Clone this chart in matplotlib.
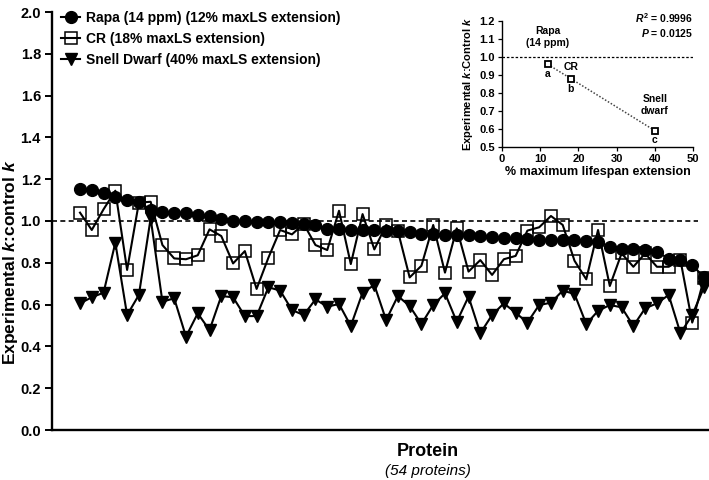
import numpy as np
import matplotlib
matplotlib.use("Agg")
import matplotlib.pyplot as plt

plt.rcParams['font.family'] = ['Liberation Sans', 'DejaVu Sans']
plt.rcParams['font.weight'] = 'bold'
plt.rcParams['mathtext.fontset'] = 'custom'
plt.rcParams['mathtext.rm'] = 'Liberation Sans:bold'
plt.rcParams['mathtext.bf'] = 'Liberation Sans:bold'
plt.rcParams['mathtext.it'] = 'Liberation Sans:italic:bold'

# ---------------- data ----------------
rapa = [1.155, 1.15, 1.135, 1.115, 1.10, 1.09, 1.055, 1.045, 1.04, 1.04,
        1.03, 1.025, 1.01, 1.00, 1.00, 0.995, 0.995, 0.995, 0.99, 0.985,
        0.98, 0.96, 0.96, 0.955, 0.955, 0.955, 0.952, 0.95, 0.945, 0.94,
        0.94, 0.935, 0.935, 0.933, 0.93, 0.925, 0.92, 0.917, 0.914, 0.91,
        0.909, 0.908, 0.907, 0.905, 0.90, 0.877, 0.865, 0.864, 0.86, 0.853,
        0.82, 0.813, 0.79, 0.73]
cr = [1.04, 0.957, 1.056, 1.145, 0.766, 1.088, 1.092, 0.885, 0.821, 0.817,
      0.836, 0.96, 0.928, 0.797, 0.856, 0.675, 0.824, 0.957, 0.936, 0.986,
      0.885, 0.861, 1.049, 0.794, 1.033, 0.864, 0.981, 0.952, 0.73, 0.786,
      0.981, 0.753, 0.965, 0.758, 0.813, 0.742, 0.817, 0.833, 0.954, 0.97,
      1.024, 0.981, 0.81, 0.721, 0.957, 0.689, 0.845, 0.781, 0.845, 0.781,
      0.781, 0.813, 0.514, 0.725]
snell = [0.606, 0.635, 0.657, 0.896, 0.55, 0.646, 1.013, 0.614, 0.63, 0.447,
         0.558, 0.478, 0.641, 0.635, 0.545, 0.545, 0.683, 0.667, 0.574, 0.55,
         0.625, 0.59, 0.603, 0.498, 0.657, 0.694, 0.526, 0.641, 0.593, 0.507,
         0.598, 0.654, 0.518, 0.638, 0.463, 0.55, 0.606, 0.561, 0.514, 0.598,
         0.609, 0.667, 0.651, 0.507, 0.57, 0.598, 0.587, 0.498, 0.582, 0.606,
         0.646, 0.463, 0.55, 0.683]
series_labels = ['Rapa (14 ppm) (12% maxLS extension)',
                 'CR (18% maxLS extension)',
                 'Snell Dwarf (40% maxLS extension)']
y_ticks = [0.0, 0.2, 0.4, 0.6, 0.8, 1.0, 1.2, 1.4, 1.6, 1.8, 2.0]

# inset data
inset_ext = [12, 18, 40]
inset_ratio = [0.96, 0.875, 0.59]
inset_names = ['Rapa\n(14 ppm)', 'CR', 'Snell\ndwarf']
inset_letters = ['a', 'b', 'c']
inset_xticks = [0, 10, 20, 30, 40, 50]
inset_yticks = [0.5, 0.6, 0.7, 0.8, 0.9, 1.0, 1.1, 1.2]

# ---------------- figure ----------------
W, H = 709, 480
fig = plt.figure(figsize=(W / 100, H / 100), dpi=100)
AX_L, AX_R = 52, 709
AX_B, AX_T = 430, 12
ax = fig.add_axes([AX_L / W, (H - AX_B) / H, (AX_R - AX_L) / W, (AX_B - AX_T) / H])

x = np.arange(len(rapa))
lw = 1.5
ax.plot(x, rapa, color='black', lw=lw, marker='o', ms=8.5, mfc='black',
        mec='black', zorder=3, clip_on=False, label=series_labels[0])
ax.plot(x, cr, color='black', lw=lw, marker='s', ms=9, mfc='none',
        mec='black', mew=1.1, zorder=4, clip_on=False, label=series_labels[1])
ax.plot(x, snell, color='black', lw=lw, marker='v', ms=9, mfc='black',
        mec='black', zorder=5, clip_on=False, label=series_labels[2])

ax.axhline(1.0, xmin=0, xmax=(698 - AX_L) / (AX_R - AX_L), color='black',
           lw=1.2, ls=(0, (3, 2)), zorder=2)

ax.set_xlim(-28 / 11.77, 53 + 5 / 11.77)
ax.set_ylim(0, 2.0)
ax.set_yticks(y_ticks)
ax.set_yticklabels([f'{v:.1f}' for v in y_ticks], fontsize=10.5, fontweight='bold')
ax.set_xticks([])
for s in ['top', 'right']:
    ax.spines[s].set_visible(False)
for s in ['left', 'bottom']:
    ax.spines[s].set_linewidth(1.7)
ax.tick_params(axis='y', direction='out', length=5, width=1.4, pad=3)

# y-axis title (placed in figure pixels)
fig.text(11 / W, 1 - 262 / H, 'Experimental $k$:control $k$', rotation=90,
         ha='center', va='center', fontsize=12.5, fontweight='bold')

cx = 428 / W
fig.text(cx, 1 - 451 / H, 'Protein', ha='center', va='center', fontsize=13, fontweight='bold')
fig.text(cx, 1 - 471 / H, '(54 proteins)', ha='center', va='center', fontsize=11,
         fontweight='normal', style='italic')

leg = ax.legend(loc='upper left', bbox_to_anchor=(0.006, 1.015), frameon=False,
                handlelength=1.3, handletextpad=0.5, labelspacing=0.5,
                prop={'size': 10, 'weight': 'bold'}, borderaxespad=0)

# ---------------- inset ----------------
iax = fig.add_axes([502 / W, (H - 146.7) / H, 191 / W, 126 / H])
iax.set_xlim(0, 50)
iax.set_ylim(0.5, 1.2)
iax.set_xticks(inset_xticks)
iax.set_yticks(inset_yticks)
iax.set_xticklabels([str(v) for v in inset_xticks], fontsize=8, fontweight='bold')
iax.set_yticklabels([f'{v:.1f}' for v in inset_yticks], fontsize=8, fontweight='bold')
for s in ['top', 'right']:
    iax.spines[s].set_visible(False)
for s in ['left', 'bottom']:
    iax.spines[s].set_linewidth(1.0)
iax.tick_params(direction='out', length=3, width=0.9, pad=2)
iax.axhline(1.0, color='black', lw=0.9, ls=(0, (2, 1.5)))

coef = np.polyfit(inset_ext, inset_ratio, 1)
fx = np.array([inset_ext[0], inset_ext[-1]])
iax.plot(fx, np.polyval(coef, fx), color='#444444', lw=1.1, ls=(0, (1, 1.2)))
iax.plot(inset_ext, inset_ratio, ls='none', marker='s', ms=4.5, mfc='white',
         mec='black', mew=1.3, zorder=5)

name_off = [0.15, 0.07, 0.14]
for xv, yv, nm, lt, off in zip(inset_ext, inset_ratio, inset_names, inset_letters, name_off):
    iax.text(xv, yv + off, nm, ha='center', va='center', fontsize=7.5,
             fontweight='bold', linespacing=1.2)
    iax.text(xv, yv - 0.055, lt, ha='center', va='center', fontsize=7.5, fontweight='bold')

iax.text(50, 1.215, '$R^2$ = 0.9996', ha='right', va='center', fontsize=7.5,
         fontweight='bold', clip_on=False)
iax.text(50, 1.13, '$P$ = 0.0125', ha='right', va='center', fontsize=7.5,
         fontweight='bold', clip_on=False)
iax.set_xlabel('% maximum lifespan extension', fontsize=9, fontweight='bold', labelpad=2)
iax.set_ylabel('Experimental $k$:Control $k$', fontsize=8, fontweight='bold', labelpad=3)

fig.savefig('out.png', dpi=100)
